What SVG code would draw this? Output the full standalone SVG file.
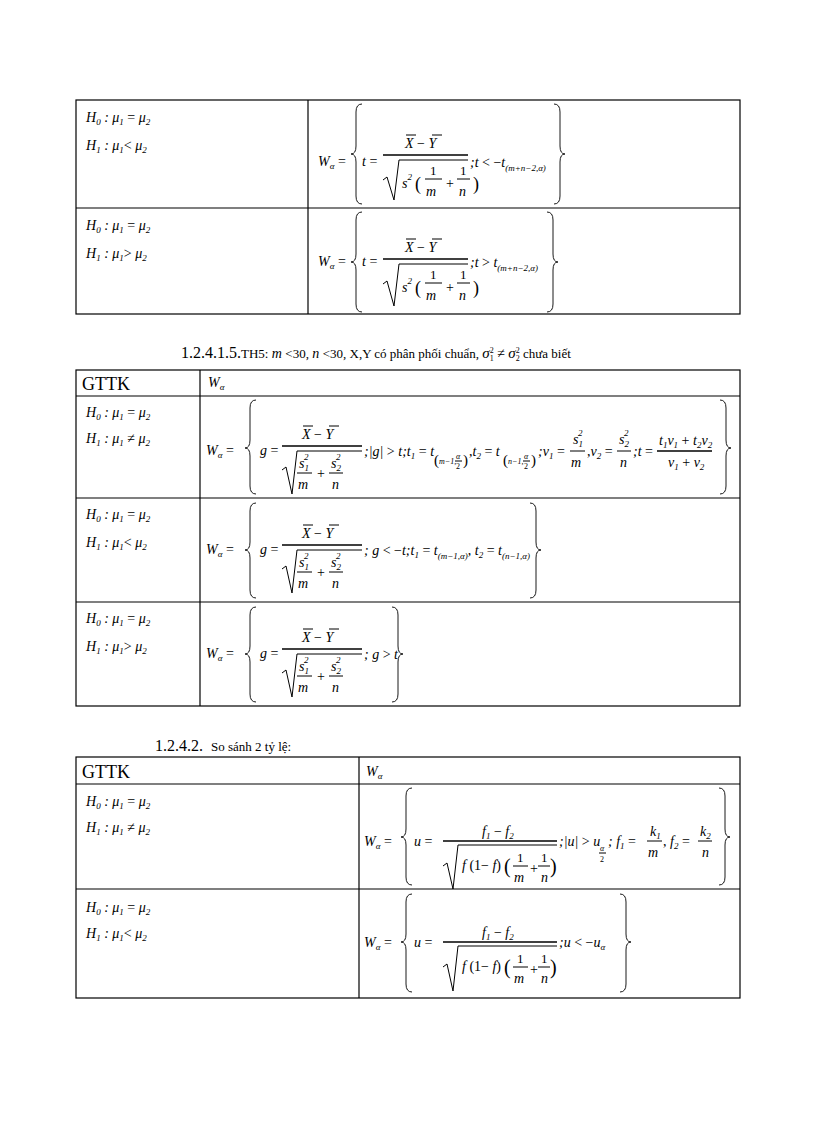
<svg xmlns="http://www.w3.org/2000/svg" width="816" height="1123" viewBox="0 0 816 1123" font-family="'Liberation Serif','Times New Roman','DejaVu Serif',serif">
<style>
text,tspan{font-family:'Liberation Serif','Times New Roman','DejaVu Serif',serif;fill:#000}
.m{font-style:italic;font-size:14px}
.sub{font-size:9px}
.big{font-size:18px}
.hd{font-size:16px}
.b{fill:none;stroke:#000;stroke-width:1}
.tb{fill:none;stroke:#000;stroke-width:1.2}
.fb{stroke:#000;stroke-width:1.5}
.ol{stroke:#000;stroke-width:1}
.br{fill:none;stroke:#000;stroke-width:0.9}
</style>
<defs>
<g id="hyp">
<text class="m" x="0" y="0">H<tspan class="sub" dy="3">0</tspan><tspan dy="-3"> : μ</tspan><tspan class="sub" dy="3">1</tspan><tspan dy="-3" font-style="normal"> = </tspan>μ<tspan class="sub" dy="3">2</tspan></text>
</g>
<g id="wa"><text class="m" x="0" y="0">W<tspan class="sub" dy="3">α</tspan><tspan dy="-3" font-style="normal"> =</tspan></text></g>
<g id="xy">
<text class="m" x="0" y="0">X <tspan font-style="normal">−</tspan> Y</text>
<line class="ol" x1="1" y1="-13" x2="11" y2="-13"/><line class="ol" x1="27" y1="-13" x2="37" y2="-13"/>
</g>
</defs>

<!-- Table 1 -->
<g id="table1">
<rect class="tb" x="76" y="100" width="664" height="214"/>
<line class="tb" x1="308" y1="100" x2="308" y2="314"/>
<line class="tb" x1="76" y1="208" x2="740" y2="208"/>
</g>
<g id="t1r1">
<use href="#hyp" x="86" y="122"/>
<text class="m" x="86" y="150">H<tspan class="sub" dy="3">1</tspan><tspan dy="-3"> : μ</tspan><tspan class="sub" dy="3">1</tspan><tspan dy="-3" font-style="normal">&lt;</tspan> μ<tspan class="sub" dy="3">2</tspan></text>
<use href="#wa" x="318" y="166"/>
<path class="br" d="M362,104 Q356,104 356,112 L356,146 Q356,154 351,154 Q356,154 356,162 L356,196 Q356,204 362,204"/>
<text class="m" x="362" y="166">t <tspan font-style="normal">=</tspan></text>
<use href="#xy" x="405" y="148"/>
<line class="fb" x1="383" y1="155" x2="468" y2="155"/>
<path class="b" d="M383,180 L387,177 L394,200 L399,160 L468,160" stroke-width="1.3"/>
<text class="m" x="402" y="188">s<tspan class="sub" dy="-8">2</tspan></text>
<text class="big" x="415" y="190">(</text><text class="big" x="473" y="190">)</text>
<text x="430" y="175" font-size="13">1</text><line class="ol" x1="425" y1="179" x2="442" y2="179"/><text class="m" x="426" y="196">m</text>
<text x="446" y="188" font-size="14">+</text>
<text x="460" y="175" font-size="13">1</text><line class="ol" x1="457" y1="179" x2="470" y2="179"/><text class="m" x="459" y="196">n</text>
<text class="m" x="470" y="167">;t <tspan font-style="normal">&lt; −</tspan>t<tspan class="sub" dy="4">(m+n−2,α)</tspan></text>
<path class="br" d="M554,104 Q560,104 560,112 L560,146 Q560,154 565,154 Q560,154 560,162 L560,196 Q560,204 554,204"/>
</g>
<g id="t1r2">
<use href="#hyp" x="86" y="230"/>
<text class="m" x="86" y="258">H<tspan class="sub" dy="3">1</tspan><tspan dy="-3"> : μ</tspan><tspan class="sub" dy="3">1</tspan><tspan dy="-3" font-style="normal">&gt;</tspan> μ<tspan class="sub" dy="3">2</tspan></text>
<use href="#wa" x="318" y="266"/>
<path class="br" d="M362,212 Q356,212 356,220 L356,254 Q356,262 351,262 Q356,262 356,270 L356,304 Q356,312 362,312"/>
<text class="m" x="362" y="266">t <tspan font-style="normal">=</tspan></text>
<use href="#xy" x="405" y="252"/>
<line class="fb" x1="383" y1="259" x2="468" y2="259"/>
<path class="b" d="M383,284 L387,281 L394,306 L399,264 L468,264" stroke-width="1.3"/>
<text class="m" x="402" y="292">s<tspan class="sub" dy="-8">2</tspan></text>
<text class="big" x="415" y="294">(</text><text class="big" x="473" y="294">)</text>
<text x="430" y="279" font-size="13">1</text><line class="ol" x1="425" y1="283" x2="442" y2="283"/><text class="m" x="426" y="300">m</text>
<text x="446" y="292" font-size="14">+</text>
<text x="460" y="279" font-size="13">1</text><line class="ol" x1="457" y1="283" x2="470" y2="283"/><text class="m" x="459" y="300">n</text>
<text class="m" x="470" y="267">;t <tspan font-style="normal">&gt; </tspan>t<tspan class="sub" dy="4">(m+n−2,α)</tspan></text>
<path class="br" d="M547,212 Q553,212 553,220 L553,254 Q553,262 558,262 Q553,262 553,270 L553,304 Q553,312 547,312"/>
</g>

<!-- Heading 2 -->
<text x="181" y="358" class="hd">1.2.4.1.5.<tspan font-size="13">TH5: </tspan><tspan font-style="italic" font-size="14">m </tspan><tspan font-size="13">&lt;30, </tspan><tspan font-style="italic" font-size="14">n </tspan><tspan font-size="13">&lt;30, X,Y có phân phối chuẩn, </tspan><tspan font-style="italic" font-size="15">σ</tspan><tspan font-size="8" dy="3">1</tspan><tspan font-size="8" dx="-4" dy="-8">2</tspan><tspan font-size="14" dy="5"> ≠ </tspan><tspan font-style="italic" font-size="15">σ</tspan><tspan font-size="8" dy="3">2</tspan><tspan font-size="8" dx="-4" dy="-8">2</tspan><tspan font-size="13" dy="5"> chưa biết</tspan></text>

<g id="table2">
<rect class="tb" x="76" y="370" width="664" height="336"/>
<line class="tb" x1="200" y1="370" x2="200" y2="706"/>
<line class="tb" x1="76" y1="396" x2="740" y2="396"/>
<line class="tb" x1="76" y1="498" x2="740" y2="498"/>
<line class="tb" x1="76" y1="602" x2="740" y2="602"/>
<text x="82" y="390" font-size="18">GTTK</text>
<text class="m" x="208" y="387">W<tspan class="sub" dy="3">α</tspan></text>
</g>
<g id="t2r1">
<use href="#hyp" x="86" y="417"/>
<text class="m" x="86" y="443">H<tspan class="sub" dy="3">1</tspan><tspan dy="-3"> : μ</tspan><tspan class="sub" dy="3">1</tspan><tspan dy="-3" font-style="normal"> ≠ </tspan>μ<tspan class="sub" dy="3">2</tspan></text>
<use href="#wa" x="206" y="455"/>
<path class="br" d="M256,400 Q250,400 250,408 L250,440 Q250,448 245,448 Q250,448 250,456 L250,486 Q250,494 256,494"/>
<text class="m" x="260" y="455">g <tspan font-style="normal">=</tspan></text>
<use href="#xy" x="302" y="439"/>
<line class="fb" x1="282" y1="446" x2="362" y2="446"/>
<path class="b" d="M282,470 L286,467 L292,494 L297,451 L362,451" stroke-width="1.3"/>
<text class="m" x="299" y="468">s<tspan class="sub" dy="3">1</tspan><tspan class="sub" dx="-5" dy="-11">2</tspan></text>
<line class="ol" x1="297" y1="473" x2="312" y2="473"/><text class="m" x="298" y="489">m</text>
<text x="317" y="478" font-size="14">+</text>
<text class="m" x="331" y="468">s<tspan class="sub" dy="3">2</tspan><tspan class="sub" dx="-5" dy="-11">2</tspan></text>
<line class="ol" x1="329" y1="473" x2="343" y2="473"/><text class="m" x="332" y="489">n</text>
<text class="m" x="364" y="456">;|g| <tspan font-style="normal">&gt; </tspan>t;t<tspan class="sub" dy="3">1</tspan><tspan dy="-3" font-style="normal"> = </tspan>t</text>
<text x="434" y="465" font-size="15">(</text><text font-style="italic" font-size="8" x="439" y="464">m−1,</text>
<text font-style="italic" font-size="8" x="456" y="459">α</text><line class="ol" x1="455" y1="461" x2="462" y2="461"/><text font-size="8" x="456" y="469">2</text>
<text x="463" y="465" font-size="15">)</text>
<text class="m" x="469" y="456"><tspan font-style="normal">,</tspan>t<tspan class="sub" dy="3">2</tspan><tspan dy="-3" font-style="normal"> = </tspan>t</text>
<text x="503" y="465" font-size="15">(</text><text font-style="italic" font-size="8" x="508" y="464">n−1,</text>
<text font-style="italic" font-size="8" x="524" y="459">α</text><line class="ol" x1="523" y1="461" x2="530" y2="461"/><text font-size="8" x="524" y="469">2</text>
<text x="531" y="465" font-size="15">)</text>
<text class="m" x="538" y="456">;v<tspan class="sub" dy="3">1</tspan><tspan dy="-3" font-style="normal"> =</tspan></text>
<text class="m" x="573" y="444">s<tspan class="sub" dy="3">1</tspan><tspan class="sub" dx="-5" dy="-11">2</tspan></text>
<line class="ol" x1="570" y1="451" x2="585" y2="451"/><text class="m" x="571" y="467">m</text>
<text class="m" x="587" y="456"><tspan font-style="normal">,</tspan>v<tspan class="sub" dy="3">2</tspan><tspan dy="-3" font-style="normal"> =</tspan></text>
<text class="m" x="619" y="444">s<tspan class="sub" dy="3">2</tspan><tspan class="sub" dx="-5" dy="-11">2</tspan></text>
<line class="ol" x1="617" y1="451" x2="631" y2="451"/><text class="m" x="620" y="467">n</text>
<text class="m" x="633" y="456">;t <tspan font-style="normal">=</tspan></text>
<text class="m" x="659" y="445">t<tspan class="sub" dy="3">1</tspan><tspan dy="-3">v</tspan><tspan class="sub" dy="3">1</tspan><tspan dy="-3" font-style="normal"> + </tspan>t<tspan class="sub" dy="3">2</tspan><tspan dy="-3">v</tspan><tspan class="sub" dy="3">2</tspan></text>
<line class="fb" x1="657" y1="451" x2="712" y2="451"/>
<text class="m" x="668" y="467">v<tspan class="sub" dy="3">1</tspan><tspan dy="-3" font-style="normal"> + </tspan>v<tspan class="sub" dy="3">2</tspan></text>
<path class="br" d="M720,400 Q726,400 726,408 L726,440 Q726,448 731,448 Q726,448 726,456 L726,486 Q726,494 720,494"/>
</g>
<g id="t2r2">
<use href="#hyp" x="86" y="519"/>
<text class="m" x="86" y="547">H<tspan class="sub" dy="3">1</tspan><tspan dy="-3"> : μ</tspan><tspan class="sub" dy="3">1</tspan><tspan dy="-3" font-style="normal">&lt;</tspan> μ<tspan class="sub" dy="3">2</tspan></text>
<use href="#wa" x="206" y="554"/>
<path class="br" d="M256,503 Q250,503 250,511 L250,542 Q250,550 245,550 Q250,550 250,558 L250,590 Q250,598 256,598"/>
<text class="m" x="260" y="554">g <tspan font-style="normal">=</tspan></text>
<use href="#xy" x="302" y="538"/>
<line class="fb" x1="282" y1="545" x2="362" y2="545"/>
<path class="b" d="M282,569 L286,566 L292,593 L297,550 L362,550" stroke-width="1.3"/>
<text class="m" x="299" y="567">s<tspan class="sub" dy="3">1</tspan><tspan class="sub" dx="-5" dy="-11">2</tspan></text>
<line class="ol" x1="297" y1="572" x2="312" y2="572"/><text class="m" x="298" y="588">m</text>
<text x="317" y="577" font-size="14">+</text>
<text class="m" x="331" y="567">s<tspan class="sub" dy="3">2</tspan><tspan class="sub" dx="-5" dy="-11">2</tspan></text>
<line class="ol" x1="329" y1="572" x2="343" y2="572"/><text class="m" x="332" y="588">n</text>
<text class="m" x="364" y="555">; g <tspan font-style="normal">&lt; −</tspan>t;t<tspan class="sub" dy="3">1</tspan><tspan dy="-3" font-style="normal"> = </tspan>t<tspan class="sub" dy="4">(m−1,α)</tspan><tspan dy="-4" font-style="normal">, </tspan>t<tspan class="sub" dy="3">2</tspan><tspan dy="-3" font-style="normal"> = </tspan>t<tspan class="sub" dy="4">(n−1,α)</tspan></text>
<path class="br" d="M530,503 Q536,503 536,511 L536,542 Q536,550 541,550 Q536,550 536,558 L536,590 Q536,598 530,598"/>
</g>
<g id="t2r3">
<use href="#hyp" x="86" y="623"/>
<text class="m" x="86" y="651">H<tspan class="sub" dy="3">1</tspan><tspan dy="-3"> : μ</tspan><tspan class="sub" dy="3">1</tspan><tspan dy="-3" font-style="normal">&gt;</tspan> μ<tspan class="sub" dy="3">2</tspan></text>
<use href="#wa" x="206" y="658"/>
<path class="br" d="M256,607 Q250,607 250,615 L250,646 Q250,654 245,654 Q250,654 250,662 L250,694 Q250,702 256,702"/>
<text class="m" x="260" y="658">g <tspan font-style="normal">=</tspan></text>
<use href="#xy" x="302" y="642"/>
<line class="fb" x1="282" y1="649" x2="362" y2="649"/>
<path class="b" d="M282,673 L286,670 L292,697 L297,654 L362,654" stroke-width="1.3"/>
<text class="m" x="299" y="671">s<tspan class="sub" dy="3">1</tspan><tspan class="sub" dx="-5" dy="-11">2</tspan></text>
<line class="ol" x1="297" y1="676" x2="312" y2="676"/><text class="m" x="298" y="692">m</text>
<text x="317" y="681" font-size="14">+</text>
<text class="m" x="331" y="671">s<tspan class="sub" dy="3">2</tspan><tspan class="sub" dx="-5" dy="-11">2</tspan></text>
<line class="ol" x1="329" y1="676" x2="343" y2="676"/><text class="m" x="332" y="692">n</text>
<text class="m" x="364" y="659">; g <tspan font-style="normal">&gt; </tspan>t</text>
<path class="br" d="M392,607 Q398,607 398,615 L398,646 Q398,654 403,654 Q398,654 398,662 L398,694 Q398,702 392,702"/>
</g>

<!-- Heading 3 -->
<text x="155" y="751" class="hd">1.2.4.2.<tspan font-size="13" dx="8">So sánh 2 tỷ lệ:</tspan></text>

<g id="table3">
<rect class="tb" x="76" y="757" width="664" height="241"/>
<line class="tb" x1="359" y1="757" x2="359" y2="998"/>
<line class="tb" x1="76" y1="784" x2="740" y2="784"/>
<line class="tb" x1="76" y1="889" x2="740" y2="889"/>
<text x="82" y="778" font-size="18">GTTK</text>
<text class="m" x="366" y="776">W<tspan class="sub" dy="3">α</tspan></text>
</g>
<g id="t3r1">
<use href="#hyp" x="86" y="806"/>
<text class="m" x="86" y="832">H<tspan class="sub" dy="3">1</tspan><tspan dy="-3"> : μ</tspan><tspan class="sub" dy="3">1</tspan><tspan dy="-3" font-style="normal"> ≠ </tspan>μ<tspan class="sub" dy="3">2</tspan></text>
<use href="#wa" x="364" y="846"/>
<path class="br" d="M412,788 Q406,788 406,796 L406,829 Q406,837 401,837 Q406,837 406,845 L406,877 Q406,885 412,885"/>
<text class="m" x="414" y="846">u <tspan font-style="normal">=</tspan></text>
<text class="m" x="482" y="836">f<tspan class="sub" dy="3">1</tspan><tspan dy="-3" font-style="normal"> − </tspan>f<tspan class="sub" dy="3">2</tspan></text>
<line class="fb" x1="443" y1="841" x2="557" y2="841"/>
<path class="b" d="M443,866 L447,863 L453,889 L458,845 L557,845" stroke-width="1.3"/>
<text class="m" x="462" y="870">f <tspan font-style="normal">(1− </tspan>f<tspan font-style="normal">)</tspan></text>
<text x="504" y="873" font-size="20">(</text><text x="550" y="873" font-size="20">)</text>
<text x="517" y="862" font-size="13">1</text><line class="ol" x1="513" y1="866" x2="528" y2="866"/><text class="m" x="514" y="882">m</text>
<text x="530" y="873" font-size="14">+</text>
<text x="541" y="862" font-size="13">1</text><line class="ol" x1="538" y1="866" x2="550" y2="866"/><text class="m" x="541" y="882">n</text>
<text class="m" x="559" y="846">;|u| <tspan font-style="normal">&gt; </tspan>u</text>
<text font-style="italic" font-size="8" x="600" y="851">α</text><line class="ol" x1="599" y1="853" x2="606" y2="853"/><text font-size="8" x="600" y="862">2</text>
<text class="m" x="608" y="846">; f<tspan class="sub" dy="3">1</tspan><tspan dy="-3" font-style="normal"> =</tspan></text>
<text class="m" x="650" y="836">k<tspan class="sub" dy="3">1</tspan></text><line class="ol" x1="647" y1="841" x2="662" y2="841"/><text class="m" x="648" y="857">m</text>
<text class="m" x="663" y="846"><tspan font-style="normal">, </tspan>f<tspan class="sub" dy="3">2</tspan><tspan dy="-3" font-style="normal"> =</tspan></text>
<text class="m" x="700" y="836">k<tspan class="sub" dy="3">2</tspan></text><line class="ol" x1="698" y1="841" x2="712" y2="841"/><text class="m" x="702" y="857">n</text>
<path class="br" d="M719,788 Q725,788 725,796 L725,829 Q725,837 730,837 Q725,837 725,845 L725,877 Q725,885 719,885"/>
</g>
<g id="t3r2">
<use href="#hyp" x="86" y="912"/>
<text class="m" x="86" y="938">H<tspan class="sub" dy="3">1</tspan><tspan dy="-3"> : μ</tspan><tspan class="sub" dy="3">1</tspan><tspan dy="-3" font-style="normal">&lt;</tspan> μ<tspan class="sub" dy="3">2</tspan></text>
<use href="#wa" x="364" y="947"/>
<path class="br" d="M412,894 Q406,894 406,902 L406,934 Q406,942 401,942 Q406,942 406,950 L406,984 Q406,992 412,992"/>
<text class="m" x="414" y="947">u <tspan font-style="normal">=</tspan></text>
<text class="m" x="482" y="937">f<tspan class="sub" dy="3">1</tspan><tspan dy="-3" font-style="normal"> − </tspan>f<tspan class="sub" dy="3">2</tspan></text>
<line class="fb" x1="443" y1="942" x2="557" y2="942"/>
<path class="b" d="M443,967 L447,964 L453,991 L458,946 L557,946" stroke-width="1.3"/>
<text class="m" x="462" y="971">f <tspan font-style="normal">(1− </tspan>f<tspan font-style="normal">)</tspan></text>
<text x="504" y="974" font-size="20">(</text><text x="550" y="974" font-size="20">)</text>
<text x="517" y="963" font-size="13">1</text><line class="ol" x1="513" y1="967" x2="528" y2="967"/><text class="m" x="514" y="983">m</text>
<text x="530" y="974" font-size="14">+</text>
<text x="541" y="963" font-size="13">1</text><line class="ol" x1="538" y1="967" x2="550" y2="967"/><text class="m" x="541" y="983">n</text>
<text class="m" x="559" y="947">;u <tspan font-style="normal">&lt; −</tspan>u<tspan class="sub" dy="3">α</tspan></text>
<path class="br" d="M620,894 Q626,894 626,902 L626,934 Q626,942 631,942 Q626,942 626,950 L626,984 Q626,992 620,992"/>
</g>
</svg>
